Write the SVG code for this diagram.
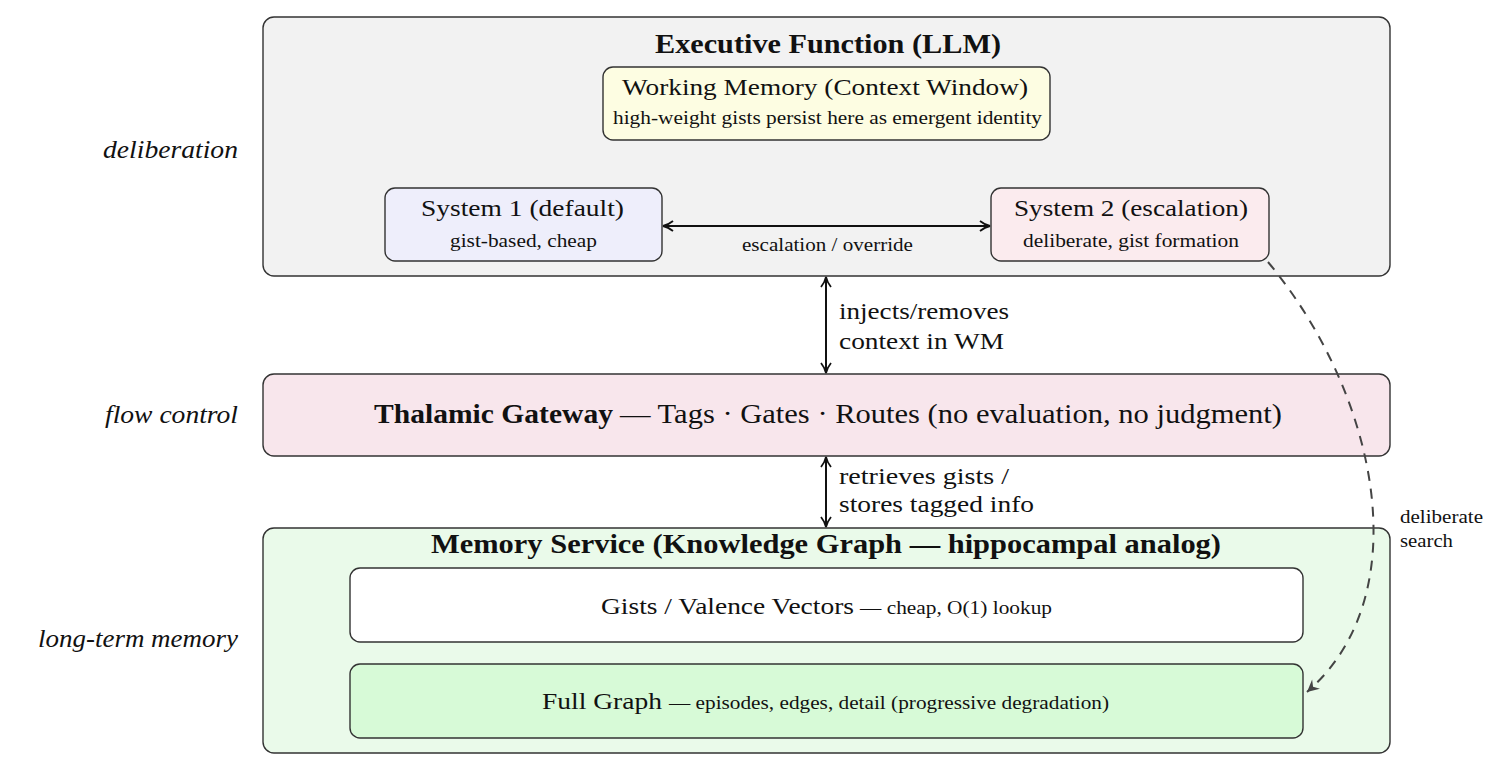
<svg xmlns="http://www.w3.org/2000/svg" width="1489" height="774" viewBox="0 0 1489 774">
<style>
text{font-family:"Liberation Serif","Times New Roman",serif;fill:#111}
.box{stroke:#333;stroke-width:1.4}
.hb{font-size:27px;font-weight:bold}
.m{font-size:23px}
.s{font-size:18.5px}
.side{font-size:25px;font-style:italic}
.conn{fill:none;stroke:#111;stroke-width:2}
.dash{fill:none;stroke:#444;stroke-width:2;stroke-dasharray:10,8}
</style>
<defs>
<marker id="ah" viewBox="0 0 12 12" refX="11" refY="6" markerWidth="12" markerHeight="12" markerUnits="userSpaceOnUse" orient="auto-start-reverse">
<path d="M1,1 Q6,5 11,6 Q6,7 1,11" fill="none" stroke="#111" stroke-width="1.8"/>
</marker>
<marker id="ahd" viewBox="0 0 14 14" refX="13" refY="7" markerWidth="14" markerHeight="14" markerUnits="userSpaceOnUse" orient="auto">
<path d="M1,1 L13,7 L1,13 L5,7 Z" fill="#444"/>
</marker>
</defs>
<rect width="1489" height="774" fill="#ffffff"/>
<text class="side" x="103" y="158" textLength="135" lengthAdjust="spacingAndGlyphs">deliberation</text>
<text class="side" x="105" y="423" textLength="133" lengthAdjust="spacingAndGlyphs">flow control</text>
<text class="side" x="38" y="647" textLength="200" lengthAdjust="spacingAndGlyphs">long-term memory</text>
<g id="executive">
<rect class="box" x="263" y="17" width="1127" height="259" rx="11" fill="#f2f2f2"/>
<text class="hb" x="655" y="53" textLength="346" lengthAdjust="spacingAndGlyphs">Executive Function (LLM)</text>
</g>
<g id="working-memory">
<rect class="box" x="603" y="67" width="447" height="73" rx="10" fill="#fdfde2"/>
<text class="m" x="622" y="95" textLength="406" lengthAdjust="spacingAndGlyphs">Working Memory (Context Window)</text>
<text class="s" x="613" y="124" textLength="429" lengthAdjust="spacingAndGlyphs">high-weight gists persist here as emergent identity</text>
</g>
<g id="system1">
<rect class="box" x="385" y="188" width="277" height="73" rx="10" fill="#eeeefb"/>
<text class="m" x="421" y="216" textLength="203" lengthAdjust="spacingAndGlyphs">System 1 (default)</text>
<text class="s" x="450" y="247" textLength="147" lengthAdjust="spacingAndGlyphs">gist-based, cheap</text>
</g>
<g id="system2">
<rect class="box" x="991" y="188" width="278" height="73" rx="10" fill="#fbebee"/>
<text class="m" x="1014" y="216" textLength="234" lengthAdjust="spacingAndGlyphs">System 2 (escalation)</text>
<text class="s" x="1023" y="247" textLength="216" lengthAdjust="spacingAndGlyphs">deliberate, gist formation</text>
</g>
<g id="thalamic">
<rect class="box" x="263" y="374" width="1127" height="82" rx="11" fill="#f8e6ec"/>
<text class="hb" x="374" y="423" textLength="239" lengthAdjust="spacingAndGlyphs">Thalamic Gateway</text>
<text x="620" y="423" style="font-size:27px" textLength="662" lengthAdjust="spacingAndGlyphs">— Tags · Gates · Routes (no evaluation, no judgment)</text>
</g>
<g id="memory">
<rect class="box" x="263" y="528" width="1127" height="225" rx="11" fill="#eafaea"/>
<text class="hb" x="431" y="553" textLength="790" lengthAdjust="spacingAndGlyphs">Memory Service (Knowledge Graph — hippocampal analog)</text>
</g>
<g id="gists">
<rect class="box" x="350" y="568" width="953" height="74" rx="10" fill="#ffffff"/>
<text class="m" x="601" y="614" textLength="253" lengthAdjust="spacingAndGlyphs">Gists / Valence Vectors</text>
<text class="s" x="860" y="614" textLength="192" lengthAdjust="spacingAndGlyphs">— cheap, O(1) lookup</text>
</g>
<g id="fullgraph">
<rect class="box" x="350" y="664" width="953" height="74" rx="10" fill="#d7fad7"/>
<text class="m" x="542" y="709" textLength="120" lengthAdjust="spacingAndGlyphs">Full Graph</text>
<text class="s" x="669" y="709" textLength="440" lengthAdjust="spacingAndGlyphs">— episodes, edges, detail (progressive degradation)</text>
</g>
<g id="connectors">
<path class="conn" d="M663,226 L990,226" marker-start="url(#ah)" marker-end="url(#ah)"/>
<text class="s" x="742" y="251" textLength="171" lengthAdjust="spacingAndGlyphs">escalation / override</text>
<path class="conn" d="M826,277 L826,373" marker-start="url(#ah)" marker-end="url(#ah)"/>
<text class="m" x="839" y="319" textLength="170" lengthAdjust="spacingAndGlyphs">injects/removes</text>
<text class="m" x="839" y="349" textLength="165" lengthAdjust="spacingAndGlyphs">context in WM</text>
<path class="conn" d="M826,457 L826,527" marker-start="url(#ah)" marker-end="url(#ah)"/>
<text class="m" x="839" y="484" textLength="170" lengthAdjust="spacingAndGlyphs">retrieves gists /</text>
<text class="m" x="839" y="512" textLength="195" lengthAdjust="spacingAndGlyphs">stores tagged info</text>
<path class="dash" d="M1268,262 C1377,393 1420,594 1307,692" marker-end="url(#ahd)"/>
<rect x="1394" y="502" width="95" height="54" fill="#ffffff"/>
<text class="s" x="1400" y="523" textLength="83" lengthAdjust="spacingAndGlyphs">deliberate</text>
<text class="s" x="1400" y="547" textLength="53" lengthAdjust="spacingAndGlyphs">search</text>
</g>
</svg>
